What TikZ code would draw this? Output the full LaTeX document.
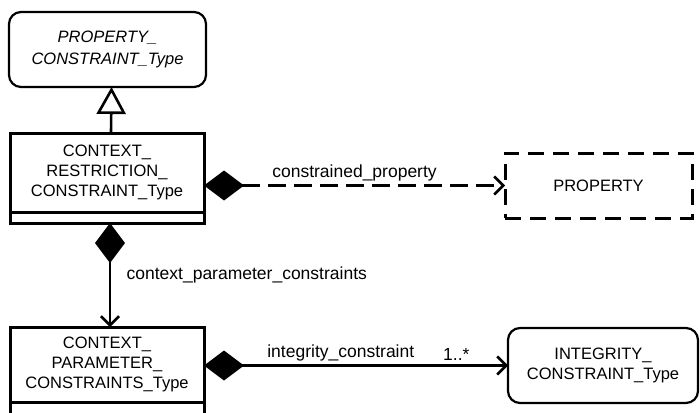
\documentclass[tikz,border=0pt]{standalone}
\usepackage{fontspec}
\setmainfont{Liberation Sans}
\usetikzlibrary{arrows.meta,positioning}

\begin{document}
\begin{tikzpicture}[x=1pt,y=-1pt,
  cls/.style={draw,line width=3pt,outer sep=0pt,inner sep=0pt,minimum width=194pt,align=center,font=\fontsize{16.5}{20}\selectfont},
  attr/.style={cls,minimum height=#1},
  roundcls/.style={cls,line width=2.2pt,rounded corners=12pt},
  assoc/.style={line width=2.6pt,{Diamond[length=40pt,width=30pt]}-{Straight Barb[length=9pt,width=18pt]}},
  gen/.style={line width=2.6pt,-{Triangle[open,length=27pt,width=29pt]}},
  lbl/.style={font=\fontsize{17.5}{20}\selectfont}]

\useasboundingbox (0,0) rectangle (700,412);
\clip (0,0) rectangle (700,412);

\node[roundcls,minimum width=197pt,minimum height=75pt,font=\fontsize{16.5}{22}\selectfont\itshape] (pct) at (107.5,49.5) {PROPERTY\_\\CONSTRAINT\_Type};
\node[cls,minimum height=79pt] (crc) at (107,172.5) {CONTEXT\_\\RESTRICTION\_\\CONSTRAINT\_Type};
\node[attr=11pt,below=0pt of crc] (crcattr) {};
\node[cls,minimum height=75pt] (cpc) at (107,364.5) {CONTEXT\_\\PARAMETER\_\\CONSTRAINTS\_Type};
\node[attr=20pt,below=0pt of cpc] (cpcattr) {};
\node[cls,dash pattern=on 16pt off 9pt,minimum width=187pt,minimum height=65pt] (prop) at (598.5,185.5) {PROPERTY};
\node[roundcls,minimum width=190pt,minimum height=75pt] (ict) at (603,365.5) {INTEGRITY\_\\CONSTRAINT\_Type};

\draw[gen] ([xshift=4pt]crc.north) -- ([xshift=4pt]pct.south);
\draw[assoc,dash pattern=on 18pt off 8pt] (prop.west -| crc.east) -- node[lbl,above]{constrained\_property} (prop.west);
\draw[assoc] ([xshift=3pt]crcattr.south) -- node[lbl,right=12pt]{context\_parameter\_constraints} ([xshift=3pt]cpc.north);
\draw[assoc] (ict.west -| cpc.east) -- node[lbl,above,pos=0.45]{integrity\_constraint} node[lbl,above,pos=0.83]{1..*} (ict.west);
\end{tikzpicture}
\end{document}
